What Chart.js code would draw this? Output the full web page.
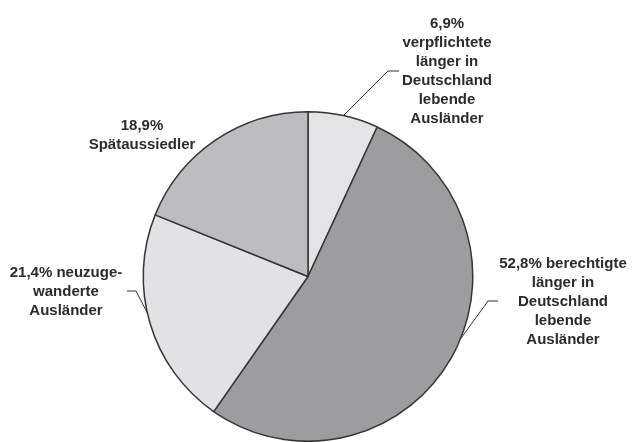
<!DOCTYPE html>
<html>
<head>
<meta charset="utf-8">
<script src="https://cdn.jsdelivr.net/npm/chart.js@4"></script>
<style>
  html, body { margin: 0; padding: 0; background: #fff; }
  #wrap { width: 632px; height: 442px; }
</style>
</head>
<body>
<div id="wrap"><canvas id="chart"></canvas></div>
<script>
// Anteile in Prozent, im Uhrzeigersinn ab 12 Uhr
const categories = [
  'verpflichtete länger in Deutschland lebende Ausländer',
  'berechtigte länger in Deutschland lebende Ausländer',
  'neuzugewanderte Ausländer',
  'Spätaussiedler'
];
const shares = [6.9, 52.8, 21.4, 18.9];
const sliceColors = ['#e4e4e6', '#9d9d9f', '#e2e2e4', '#bdbdbf'];

// Beschriftungen (Zeilen wie im Original umgebrochen)
const labelLines = [
  ['6,9%', 'verpflichtete', 'länger in', 'Deutschland', 'lebende', 'Ausländer'],
  ['52,8% berechtigte', 'länger in', 'Deutschland', 'lebende', 'Ausländer'],
  ['21,4% neuzuge-', 'wanderte', 'Ausländer'],
  ['18,9%', 'Spätaussiedler']
];

// Position der Texte und Führungslinien
const labelLayout = [
  { x: 447, y: 24, leader: { t: 0.5, elbow: [388, 71], end: [399, 71] } },
  { x: 563, y: 264, leader: { t: 0.46, elbow: [488, 301], end: [498, 301] } },
  { x: 66, y: 273, leader: { t: 0.55, elbow: [136, 291], end: [127, 291] } },
  { x: 142, y: 126, leader: null }
];

const labelPlugin = {
  id: 'pieLabels',
  afterDraw(chart) {
    const ctx = chart.ctx;
    const arcs = chart.getDatasetMeta(0).data;
    ctx.save();
    ctx.fillStyle = '#2b2b2b';
    ctx.strokeStyle = '#333';
    ctx.lineWidth = 1;
    ctx.font = 'bold 15px "Liberation Sans", Arial, sans-serif';
    ctx.textAlign = 'center';
    ctx.textBaseline = 'middle';
    labelLayout.forEach((lay, i) => {
      labelLines[i].forEach((line, k) => {
        ctx.fillText(line, lay.x, lay.y + k * 19);
      });
      if (lay.leader) {
        const a = arcs[i];
        const ang = a.startAngle + lay.leader.t * (a.endAngle - a.startAngle);
        const sx = a.x + Math.cos(ang) * a.outerRadius;
        const sy = a.y + Math.sin(ang) * a.outerRadius;
        ctx.beginPath();
        ctx.moveTo(sx, sy);
        ctx.lineTo(lay.leader.elbow[0], lay.leader.elbow[1]);
        ctx.lineTo(lay.leader.end[0], lay.leader.end[1]);
        ctx.stroke();
      }
    });
    ctx.restore();
  }
};

const ctx = document.getElementById('chart').getContext('2d');
new Chart(ctx, {
  type: 'pie',
  data: {
    labels: categories,
    datasets: [{
      data: shares,
      backgroundColor: sliceColors,
      borderColor: '#363636',
      borderWidth: 1.5
    }]
  },
  options: {
    responsive: true,
    maintainAspectRatio: false,
    animation: false,
    layout: { padding: { top: 111, bottom: 0, left: 142, right: 158 } },
    plugins: {
      legend: { display: false },
      tooltip: { enabled: false }
    }
  },
  plugins: [labelPlugin]
});
</script>
</body>
</html>
